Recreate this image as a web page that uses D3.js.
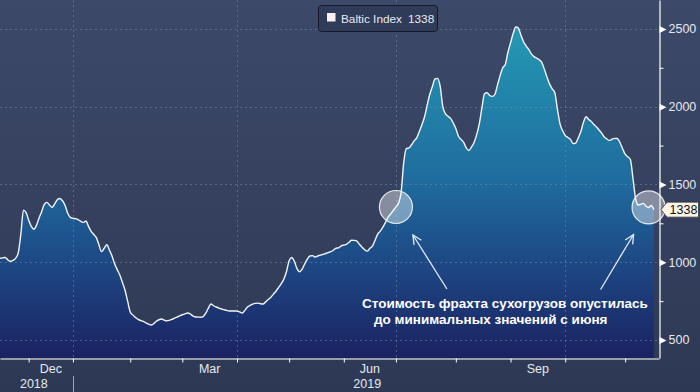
<!DOCTYPE html>
<html>
<head>
<meta charset="utf-8">
<script src="https://cdn.jsdelivr.net/npm/d3@7"></script>
<style>
  html, body { margin: 0; padding: 0; background: #333f5c; }
  svg { display: block; font-family: "Liberation Sans", Arial, sans-serif; }
</style>
</head>
<body>
<svg id="chart"></svg>
<script>
const width = 700;
const height = 392;

// Baltic Exchange closing days (the x axis counts trading days only)
const holidays = ["2018-12-24", "2018-12-25", "2018-12-26", "2018-12-31", "2019-01-01",
  "2019-04-19", "2019-04-22", "2019-05-06", "2019-05-27", "2019-08-26"];
const firstDay = "2018-11-16";
const lastDay = "2019-11-20";

// Baltic Dry Index, one value per trading day from 16 Nov 2018
const values = [
  1025, 1028, 1030, 1015, 1006, 1012, 1025, 1060, 1180, 1335,
  1320, 1270, 1230, 1212, 1237, 1285, 1325, 1372, 1385, 1368,
  1353, 1375, 1402, 1410, 1395, 1365, 1315, 1288, 1282, 1280,
  1274, 1262, 1256, 1265, 1230, 1198, 1178, 1158, 1110, 1068,
  1090, 1112, 1078, 1040, 990, 952, 917, 870, 820, 750,
  680, 660, 645, 632, 625, 619, 610, 602, 596, 605,
  620, 630, 635, 628, 623, 626, 632, 640, 647, 655,
  662, 668, 673, 668, 655, 648, 647, 646, 650, 672,
  705, 731, 720, 712, 705, 699, 695, 690, 686, 686,
  686, 686, 680, 673, 690, 712, 722, 730, 735, 737,
  733, 731, 745, 760, 775, 795, 815, 838, 862, 892,
  940, 1010, 1030, 1005, 960, 938, 955, 990, 1020, 1040,
  1042, 1033, 1040, 1046, 1050, 1056, 1062, 1068, 1077, 1090,
  1092, 1105, 1110, 1115, 1128, 1141, 1140, 1135, 1115, 1096,
  1080, 1071, 1090, 1103, 1141, 1180, 1200, 1225, 1256, 1290,
  1310, 1333, 1355, 1380, 1450, 1640, 1730, 1735, 1755, 1780,
  1800, 1840, 1885, 1935, 2010, 2080, 2130, 2178, 2182, 2130,
  2000, 1955, 1938, 1925, 1895, 1860, 1810, 1790, 1770, 1735,
  1718, 1740, 1770, 1820, 1890, 1990, 2083, 2090, 2072, 2066,
  2080, 2140, 2200, 2250, 2272, 2350, 2410, 2470, 2512, 2505,
  2460, 2418, 2390, 2368, 2340, 2322, 2312, 2302, 2285, 2240,
  2190, 2145, 2115, 2090, 1985, 1890, 1845, 1815, 1802, 1790,
  1763, 1766, 1800, 1840, 1900, 1935, 1918, 1905, 1885, 1870,
  1850, 1830, 1805, 1792, 1782, 1792, 1796, 1795, 1770, 1730,
  1695, 1678, 1660, 1540, 1410, 1368, 1372, 1378, 1360, 1352,
  1365, 1338
];

const yTicks = [500, 1000, 1500, 2000, 2500];
const yMinorTicks = [750, 1250, 1750, 2250];
const monthTicks = ["2018-12-01", "2019-01-01", "2019-02-01", "2019-03-01", "2019-04-01", "2019-05-01",
  "2019-06-01", "2019-07-01", "2019-08-01", "2019-09-01", "2019-10-01", "2019-11-01"];
const gridDates = ["2019-01-01", "2019-04-01", "2019-07-01", "2019-10-01"];
const monthLabels = [["Dec", "2018-12-01", "2019-01-01"], ["Mar", "2019-03-01", "2019-04-01"],
  ["Jun", "2019-06-01", "2019-07-01"], ["Sep", "2019-09-01", "2019-10-01"]];
const yearLabels = [["2018", "2018-12-05"], ["2019", "2019-06-14"]];
const circleDates = ["2019-07-01", "2019-11-14"];
const seriesName = "Baltic Index";
const lastValue = values[values.length - 1];
const noteLines = ["Стоимость фрахта сухогрузов опустилась", "до минимальных значений с июня"];

const parse = d3.timeParse("%Y-%m-%d");
const fmt = d3.timeFormat("%Y-%m-%d");
const days = d3.timeDays(parse(firstDay), d3.timeDay.offset(parse(lastDay), 1))
  .filter(d => d.getDay() % 6 !== 0 && !holidays.includes(fmt(d)));
// number of trading days before a date
const tIndex = s => d3.bisectLeft(days, parse(s));

const plotW = 659;
const plotH = 358;

const x = d3.scaleLinear().domain([0, tIndex(lastDay)]).range([0, plotW]);
const y = d3.scaleLinear().domain([384, 2686]).range([plotH, 0]);

const svg = d3.select("#chart")
  .attr("width", width)
  .attr("height", height)
  .attr("viewBox", [0, 0, width, height]);

const defs = svg.append("defs");
const bg = defs.append("linearGradient").attr("id", "bg")
  .attr("x1", 0).attr("y1", 0).attr("x2", 0).attr("y2", 1);
bg.append("stop").attr("offset", 0).attr("stop-color", "#3d4969");
bg.append("stop").attr("offset", 1).attr("stop-color", "#2d3954");

const fill = defs.append("linearGradient").attr("id", "areaFill")
  .attr("gradientUnits", "userSpaceOnUse")
  .attr("x1", 0).attr("y1", 0).attr("x2", 0).attr("y2", plotH);
[[0, "#2aa2ba"], [0.12, "#2394b1"], [0.5, "#1f6c9e"], [0.75, "#1d4683"], [1, "#1b2261"]]
  .forEach(([o, c]) => fill.append("stop").attr("offset", o).attr("stop-color", c));

svg.append("rect").attr("width", width).attr("height", height).attr("fill", "url(#bg)");

// area + line
const area = d3.area()
  .x((d, i) => x(i))
  .y0(plotH)
  .y1(d => y(d))
  .curve(d3.curveMonotoneX);
const line = d3.line()
  .x((d, i) => x(i))
  .y(d => y(d))
  .curve(d3.curveMonotoneX);

svg.append("path").datum(values).attr("d", area).attr("fill", "url(#areaFill)");

// dotted grid
const grid = svg.append("g")
  .attr("stroke", "#7886a4")
  .attr("stroke-opacity", 0.55)
  .attr("stroke-dasharray", "2,3");
grid.selectAll("line.h").data(yTicks).join("line")
  .attr("x1", 0).attr("x2", plotW)
  .attr("y1", d => Math.round(y(d)) + 0.5).attr("y2", d => Math.round(y(d)) + 0.5);
grid.selectAll("line.v").data(gridDates).join("line")
  .attr("x1", d => Math.round(x(tIndex(d))) + 0.5).attr("x2", d => Math.round(x(tIndex(d))) + 0.5)
  .attr("y1", 0).attr("y2", plotH);

svg.append("path").datum(values).attr("d", line)
  .attr("fill", "none")
  .attr("stroke", "#f2f5fa")
  .attr("stroke-width", 1.4)
  .attr("stroke-linejoin", "round");

// highlight circles
const circles = circleDates.map(s => ({ cx: x(tIndex(s)), cy: y(values[tIndex(s)]) }));
svg.append("g").selectAll("circle").data(circles).join("circle")
  .attr("cx", d => d.cx).attr("cy", d => d.cy).attr("r", 16.5)
  .attr("fill", "#ffffff").attr("fill-opacity", 0.4)
  .attr("stroke", "#ffffff").attr("stroke-opacity", 0.85).attr("stroke-width", 1.2);

// arrows from the note towards the circles
const arrows = [
  { from: [circles[0].cx + 51, circles[0].cy + 82], to: [circles[0].cx + 17, circles[0].cy + 28] },
  { from: [circles[1].cx - 48, circles[1].cy + 82], to: [circles[1].cx - 15, circles[1].cy + 27] }
];
const ag = svg.append("g").attr("stroke", "#e6ebf3").attr("stroke-width", 1.3).attr("fill", "none");
arrows.forEach(a => {
  const [x0, y0] = a.from, [x1, y1] = a.to;
  const ang = Math.atan2(y1 - y0, x1 - x0);
  const h = 10, s = 0.45;
  ag.append("line").attr("x1", x0).attr("y1", y0).attr("x2", x1).attr("y2", y1);
  ag.append("path").attr("d",
    `M${x1 - h * Math.cos(ang - s)},${y1 - h * Math.sin(ang - s)}L${x1},${y1}L${x1 - h * Math.cos(ang + s)},${y1 - h * Math.sin(ang + s)}`);
});

// note text
svg.append("text")
  .attr("fill", "#ffffff")
  .attr("font-weight", "bold")
  .attr("font-size", 13.5)
  .selectAll("tspan").data(noteLines).join("tspan")
  .attr("x", (d, i) => i === 0 ? 362 : 374)
  .attr("y", (d, i) => 308 + i * 16)
  .text(d => d);

// right axis
const yAxis = svg.append("g")
  .attr("transform", `translate(${plotW + 0.5},0)`)
  .call(d3.axisRight(y).tickValues(yTicks).tickFormat(d3.format("d")).tickSize(0).tickPadding(9).tickSizeOuter(0));
yAxis.select(".domain").attr("stroke", "#ffffff").attr("stroke-width", 1.2);
yAxis.selectAll(".tick text").attr("fill", "#e6e9f0").attr("font-size", 12.5)
  .attr("font-family", "'Liberation Sans', Arial, sans-serif");
yAxis.selectAll(".tick").append("path").attr("d", "M0,-3.5L7,0L0,3.5Z").attr("fill", "#ffffff");

const yMinor = svg.append("g")
  .attr("transform", `translate(${plotW + 0.5},0)`)
  .call(d3.axisRight(y).tickValues(yMinorTicks).tickSize(4).tickFormat(""));
yMinor.select(".domain").remove();
yMinor.selectAll(".tick line").attr("stroke", "#ffffff");

// bottom axis
const xAxis = svg.append("g")
  .attr("transform", `translate(0,${plotH + 0.5})`)
  .call(d3.axisBottom(x).tickValues(monthTicks.map(tIndex)).tickSize(4).tickSizeOuter(0).tickFormat(""));
xAxis.select(".domain").attr("stroke", "#ffffff").attr("stroke-width", 1.2);
xAxis.selectAll(".tick line").attr("stroke", "#ffffff");

svg.append("g").selectAll("text").data(monthLabels).join("text")
  .attr("x", d => (x(tIndex(d[1])) + x(tIndex(d[2]))) / 2)
  .attr("y", 373)
  .attr("text-anchor", "middle")
  .attr("font-size", 12.5)
  .attr("fill", "#e6e9f0")
  .text(d => d[0]);

svg.append("g").selectAll("text").data(yearLabels).join("text")
  .attr("x", d => x(tIndex(d[1])))
  .attr("y", 388)
  .attr("text-anchor", "middle")
  .attr("font-size", 12.5)
  .attr("fill", "#e6e9f0")
  .text(d => d[0]);

const sepX = Math.round(x(tIndex("2019-01-01"))) + 0.5;
svg.append("line").attr("x1", sepX).attr("x2", sepX).attr("y1", 376).attr("y2", height)
  .attr("stroke", "#9aa3b8");

// legend
const lg = svg.append("g");
lg.append("rect").attr("x", 318.5).attr("y", 5.5).attr("width", 119).attr("height", 26).attr("rx", 3)
  .attr("fill", "#2f3b58").attr("stroke", "#141a28");
lg.append("rect").attr("x", 327).attr("y", 13).attr("width", 8.5).attr("height", 8.5).attr("fill", "#fdf0ec");
lg.append("text").attr("x", 341).attr("y", 23).attr("font-size", 11.8).attr("fill", "#e8eaf0").text(seriesName);
lg.append("text").attr("x", 408).attr("y", 23).attr("font-size", 11.8).attr("fill", "#e8eaf0").text(lastValue);

// last value tag
const ty = y(lastValue);
const tag = svg.append("g");
tag.append("path")
  .attr("d", `M${plotW + 2},${ty}L${plotW + 8},${ty - 7.5}L698.5,${ty - 7.5}L698.5,${ty + 7.5}L${plotW + 8},${ty + 7.5}Z`)
  .attr("fill", "#fdf6e8").attr("stroke", "#3a3a3a").attr("stroke-width", 0.8);
tag.append("text").attr("x", 683.5).attr("y", ty + 4.5).attr("text-anchor", "middle")
  .attr("font-size", 12.5).attr("fill", "#111111").text(lastValue);
</script>
</body>
</html>
